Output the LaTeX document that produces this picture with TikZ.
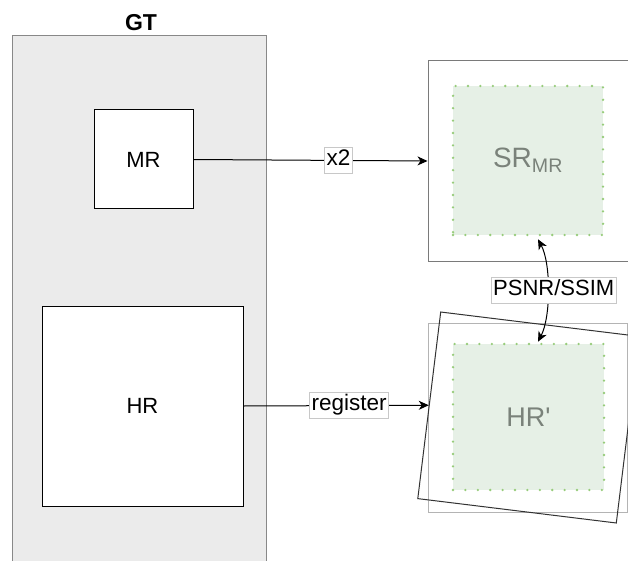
\documentclass[tikz,border=0pt]{standalone}
\usepackage{fontspec}
\setmainfont{Liberation Sans}
\usetikzlibrary{arrows.meta,calc}
\definecolor{gtfill}{HTML}{EBEBEB}
\definecolor{gtborder}{HTML}{888888}
\definecolor{srborder}{HTML}{7A7A7A}
\definecolor{hrborder}{HTML}{B4B4B4}
\definecolor{rotborder}{HTML}{333333}
\definecolor{greenfill}{HTML}{E6F0E6}
\definecolor{greendot}{HTML}{97CC7A}
\definecolor{softtext}{HTML}{7A827A}
\definecolor{lblborder}{HTML}{C8C8C8}
\begin{document}
\begin{tikzpicture}[x=1pt,y=-1pt,
  gtbox/.style={draw=gtborder, fill=gtfill, line width=1pt, inner sep=0pt},
  whitebox/.style={draw=black, fill=white, line width=1pt, inner sep=0pt, font=\fontsize{22}{26}\selectfont},
  outerbox/.style={fill=white, line width=1pt, inner sep=0pt},
  greenbox/.style={fill=greenfill, draw=greendot, line width=2.6pt, dash pattern=on 0pt off 12.4pt, line cap=round, inner sep=0pt, text=softtext},
  lbl/.style={draw=lblborder, fill=white, line width=0.8pt, inner sep=2pt, text height=16pt, text depth=6pt, font=\fontsize{22.5}{26}\selectfont},
  conn/.style={line width=1pt, -{Stealth[length=10pt,width=9pt,inset=3pt]}},
  dconn/.style={line width=1pt, {Stealth[length=10pt,width=9pt,inset=3pt]}-{Stealth[length=10pt,width=9pt,inset=3pt]}}
]
\clip (0,0) rectangle (628,561);
\fill[white] (0,0) rectangle (628,561);

% GT container
\node[gtbox, minimum width=254pt, minimum height=540pt] (gt) at (139,306) {};
\node[font=\bfseries\fontsize{23}{27}\selectfont, inner sep=0pt] (gtl) at (141,23) {GT};

% left boxes
\node[whitebox, minimum width=99pt, minimum height=99pt] (MR) at (143.5,159.5) {MR};
\node[whitebox, minimum width=201pt, minimum height=200pt] (HR) at (142.5,406) {HR};

% SR box
\node[outerbox, draw=srborder, minimum width=200pt, minimum height=200pt] (SRo) at (528,161) {};
\node[greenbox, minimum width=150pt, minimum height=149pt, font=\fontsize{28}{32}\selectfont] (SRi) at (528,160.5) {SR\textsubscript{MR}};

% HR' box
\node[outerbox, draw=hrborder, minimum width=199pt, minimum height=189pt] (HRo) at (527.5,417.5) {};
\node[draw=rotborder, line width=1pt, minimum width=200pt, minimum height=188pt, inner sep=0pt, rotate=-7] (rot) at (528.5,417.5) {};
\node[greenbox, minimum width=151pt, minimum height=146pt, font=\fontsize{27}{31}\selectfont] (HRi) at (528.5,417) {HR\textquotesingle};

% connectors
\draw[conn] (MR.east) -- node[lbl, pos=0.62] (x2) {x2} (SRo.west);
\draw[conn] (HR.east) -- node[lbl, pos=0.57] (reg) {register} (rot.west);

\coordinate (pa) at ($(SRi.south)+(10,3)$);
\coordinate (pb) at ($(HRi.north)+(9.5,-1)$);
\draw[dconn] (pa) .. controls +(13,24) and +(13,-25) .. node[lbl, pos=0.5, xshift=6pt, font=\fontsize{22}{26}\selectfont] (ps) {PSNR/SSIM} (pb);
\end{tikzpicture}
\end{document}
